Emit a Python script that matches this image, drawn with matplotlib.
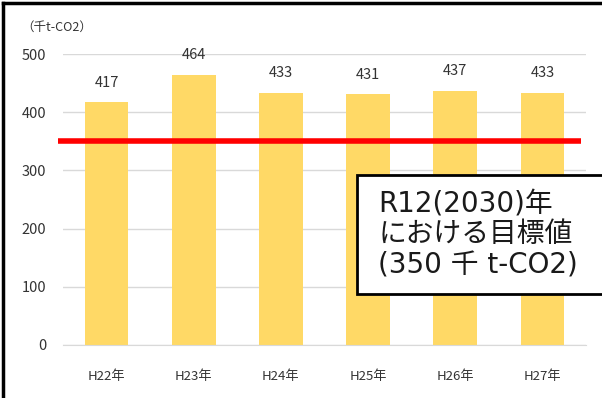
import matplotlib.pyplot as plt
from matplotlib.lines import Line2D
from matplotlib.patches import Rectangle

plt.rcParams['font.family'] = ['Noto Sans CJK JP', 'DejaVu Sans']

years = ['H22年', 'H23年', 'H24年', 'H25年', 'H26年', 'H27年']
emissions = [417, 464, 433, 431, 437, 433]
target = 350
yticks = [0, 100, 200, 300, 400, 500]

fig = plt.figure(figsize=(6.02, 3.98), dpi=100)
ax = fig.add_axes([0.1047, 0.1332, 0.8687, 0.7311])

x = range(len(years))
ax.bar(x, emissions, width=0.5, color='#FFD966', zorder=2)
for i, v in enumerate(emissions):
    ax.annotate(f'{v}', (i, v), xytext=(0, 9), textcoords='offset points',
                ha='center', va='bottom', fontsize=10.5, color='#333333')

# target line
ax.plot([-0.557, 5.44], [target, target], color='#FF0000', lw=4,
        solid_capstyle='butt', zorder=3, clip_on=False)
ax.set_xlim(-0.5, len(years) - 0.5)

ax.set_ylim(0, 500)
ax.set_yticks(yticks)
ax.yaxis.grid(True, color='#D9D9D9', lw=1, zorder=0)
ax.set_xticks(list(x))
ax.set_xticklabels(years, fontsize=9.5, color='#333333')
ax.tick_params(axis='y', labelsize=10.5, colors='#333333', length=0, pad=12)
ax.tick_params(axis='x', length=0, pad=18)
for s in ['top', 'right', 'left']:
    ax.spines[s].set_visible(False)
ax.spines['bottom'].set_color('#D9D9D9')

fig.text(0.035, 0.932, '（千t-CO2）', fontsize=9, color='#333333', va='center')

# annotation box with the target
fig.add_artist(Rectangle((0.593, 0.262), 0.42, 0.298, transform=fig.transFigure,
                         fc='white', ec='black', lw=2, zorder=5))
fig.text(0.628, 0.411, 'R12(2030)年\nにおける目標値\n(350 千 t-CO2)', fontsize=20,
         family=['DejaVu Sans', 'Noto Sans CJK JP'], color='#1a1a1a',
         va='center', ha='left', linespacing=1.15, zorder=6)

# outer frame, left and top edges
fig.add_artist(Line2D([0.005, 0.005], [0, 0.992], color='black', lw=2.5))
fig.add_artist(Line2D([0.005, 1.0], [0.992, 0.992], color='black', lw=2.5))

fig.savefig('out.png', dpi=100)
